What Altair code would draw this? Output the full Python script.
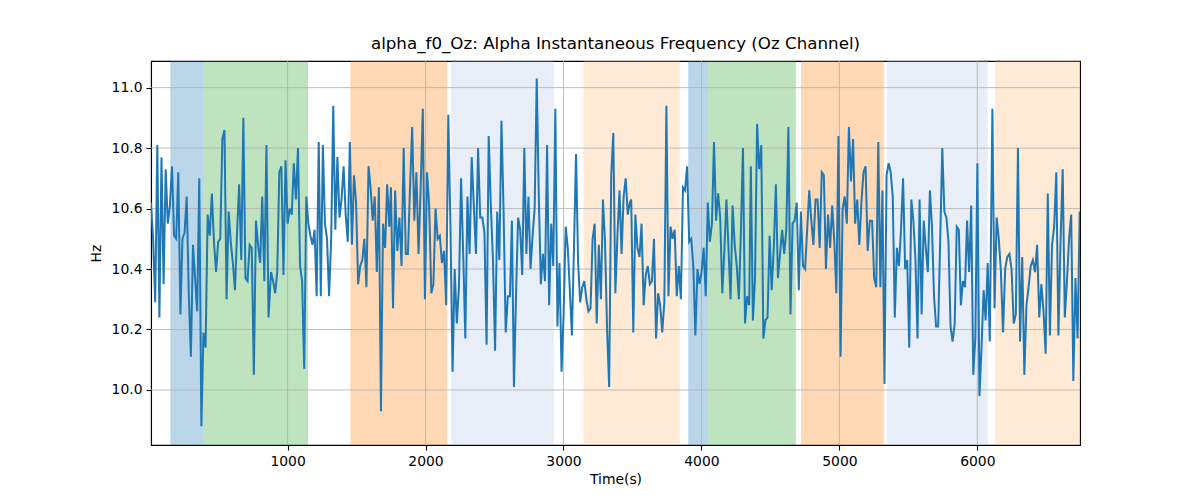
import altair as alt
import pandas as pd
import numpy as np

TITLE = "alpha_f0_Oz: Alpha Instantaneous Frequency (Oz Channel)"

# time bounds (s) of each read-off segment of the trace
seg_t = [(10, 862), (880, 1737), (1749, 2612), (2626, 3481),
         (3491, 4346), (4358, 5220), (5237, 6090), (6109, 6742)]

seg1 = [10.62, 10.50, 10.29, 10.81, 10.24, 10.77, 10.35, 10.73, 10.55, 10.61, 10.74, 10.51, 10.50, 10.72,
        10.25, 10.50, 10.52, 10.64, 10.32, 10.11, 10.48, 10.37, 10.26, 10.70, 9.88, 10.19, 10.14, 10.58,
        10.51, 10.65, 10.49, 10.39, 10.49, 10.50, 10.83, 10.86, 10.30, 10.59, 10.49, 10.42, 10.33, 10.52,
        10.68, 10.43, 10.90, 10.37, 10.36, 10.48, 10.47, 10.05, 10.56, 10.48, 10.42, 10.64, 10.36, 10.81, 10.24]
seg2 = [10.39, 10.36, 10.32, 10.39, 10.72, 10.74, 10.38, 10.76, 10.55, 10.60, 10.58, 10.75, 10.63, 10.80,
        10.41, 10.36, 10.07, 10.64, 10.55, 10.51, 10.48, 10.53, 10.31, 10.82, 10.31, 10.81, 10.55, 10.50,
        10.31, 10.50, 10.94, 10.53, 10.77, 10.57, 10.63, 10.74, 10.58, 10.49, 10.82, 10.48, 10.71, 10.62,
        10.35, 10.41, 10.43, 10.50, 10.34, 10.74, 10.67, 10.56, 10.64, 10.39, 10.67, 9.93, 10.55, 10.47, 10.68, 10.54]
seg3 = [10.67, 10.27, 10.66, 10.46, 10.57, 10.41, 10.80, 10.45, 10.45, 10.67, 10.87, 10.56, 10.72, 10.45,
        10.67, 10.93, 10.30, 10.72, 10.61, 10.32, 10.35, 10.60, 10.50, 10.51, 10.42, 10.46, 10.28, 10.91,
        10.54, 10.06, 10.40, 10.22, 10.34, 10.70, 10.45, 10.17, 10.64, 10.45, 10.77, 10.61, 10.45, 10.80,
        10.57, 10.57, 10.52, 10.15, 10.84, 10.61, 10.43, 10.13, 10.59, 10.43, 10.89, 10.59, 10.19, 10.31, 10.31]
seg4 = [10.56, 10.01, 10.32, 10.57, 10.53, 10.38, 10.80, 10.45, 10.64, 10.40, 10.51, 10.60, 11.03, 10.64,
        10.35, 10.45, 10.36, 10.81, 10.28, 10.55, 10.41, 10.93, 10.21, 10.42, 10.06, 10.25, 10.54, 10.47,
        10.33, 10.18, 10.47, 10.78, 10.42, 10.29, 10.34, 10.36, 10.30, 10.26, 10.27, 10.50, 10.55, 10.22,
        10.48, 10.30, 10.63, 10.49, 10.20, 10.01, 10.71, 10.85, 10.32, 10.51, 10.66, 10.45, 10.64, 10.70, 10.58, 10.62]
seg5 = [10.63, 10.19, 10.58, 10.47, 10.44, 10.55, 10.28, 10.38, 10.41, 10.35, 10.36, 10.50, 10.17, 10.32,
        10.28, 10.19, 10.29, 10.94, 10.31, 10.54, 10.50, 10.53, 10.31, 10.41, 10.30, 10.67, 10.66, 10.74,
        10.49, 10.50, 10.41, 10.18, 10.40, 10.35, 10.39, 10.47, 10.31, 10.62, 10.49, 10.55, 10.82, 10.56,
        10.65, 10.57, 10.32, 10.46, 10.63, 10.47, 10.30, 10.61, 10.48, 10.41, 10.30, 10.52, 10.80, 10.22, 10.31, 10.28]
seg6 = [10.74, 10.23, 10.37, 10.88, 10.73, 10.81, 10.17, 10.23, 10.24, 10.51, 10.33, 10.47, 10.68, 10.37,
        10.45, 10.53, 10.45, 10.53, 10.87, 10.25, 10.55, 10.56, 10.62, 10.33, 10.59, 10.41, 10.40, 10.53,
        10.66, 10.56, 10.48, 10.63, 10.63, 10.47, 10.72, 10.71, 10.40, 10.58, 10.47, 10.61, 10.49, 10.32,
        10.84, 10.11, 10.60, 10.64, 10.55, 10.87, 10.69, 10.83, 10.55, 10.63, 10.48, 10.62, 10.72, 10.74, 10.46, 10.56]
seg7 = [10.56, 10.37, 10.34, 10.82, 10.34, 10.66, 10.02, 10.71, 10.75, 10.72, 10.64, 10.24, 10.47, 10.41,
        10.53, 10.70, 10.40, 10.43, 10.14, 10.63, 10.56, 10.43, 10.17, 10.63, 10.25, 10.56, 10.47, 10.39,
        10.66, 10.54, 10.31, 10.21, 10.21, 10.50, 10.80, 10.59, 10.57, 10.49, 10.21, 10.16, 10.22, 10.54,
        10.53, 10.28, 10.36, 10.34, 10.56, 10.39, 10.61, 10.05, 10.17, 10.75, 9.98, 10.14, 10.33, 10.23, 10.42, 10.16]
seg8 = [10.93, 10.27, 10.57, 10.50, 10.39, 10.19, 10.40, 10.44, 10.45, 10.40, 10.22, 10.25, 10.80, 10.16,
        10.44, 10.05, 10.28, 10.34, 10.41, 10.43, 10.39, 10.48, 10.24, 10.35, 10.26, 10.12, 10.65, 10.18,
        10.48, 10.54, 10.72, 10.18, 10.49, 10.73, 10.24, 10.36, 10.50, 10.58, 10.03, 10.37, 10.17, 10.59]

span_start = [150, 389, 1455, 2186, 3145, 3904, 4049, 4722, 5346, 6128]
span_end = [389, 1148, 2157, 2930, 3843, 4049, 4684, 5322, 6075, 6744]
span_kind = ["blue", "green", "orange", "lightblue", "lightorange",
             "blue", "green", "orange", "lightblue", "lightorange"]

x_ticks = [1000, 2000, 3000, 4000, 5000, 6000]
y_ticks = [10.0, 10.2, 10.4, 10.6, 10.8, 11.0]

X_DOMAIN = [10, 6744]
Y_DOMAIN = [9.818, 11.088]

times, vals = [], []
for (a, b), seg in zip(seg_t, [seg1, seg2, seg3, seg4, seg5, seg6, seg7, seg8]):
    times.extend(np.linspace(a, b, len(seg)).tolist())
    vals.extend(seg)
line_df = pd.DataFrame({"t": times, "hz": vals})
span_df = pd.DataFrame({"start": span_start, "end": span_end, "kind": span_kind})
gx_df = pd.DataFrame({"gx": x_ticks})
gy_df = pd.DataFrame({"gy": y_ticks})

xs = alt.Scale(domain=X_DOMAIN, nice=False, zero=False)
ys = alt.Scale(domain=Y_DOMAIN, nice=False, zero=False)
x_axis = alt.Axis(values=x_ticks, format="d", grid=False)
y_axis = alt.Axis(values=y_ticks, format=".1f", grid=False)

spans = alt.Chart(span_df).mark_rect(opacity=0.3).encode(
    x=alt.X("start:Q", scale=xs, title="Time(s)", axis=x_axis),
    x2="end:Q",
    color=alt.Color("kind:N", legend=None, scale=alt.Scale(
        domain=["blue", "green", "orange", "lightblue", "lightorange"],
        range=["#1f77b4", "#2ca02c", "#ff7f0e", "#aec7e8", "#ffbb78"])),
)

gridx = alt.Chart(gx_df).mark_rule(color="#b0b0b0", strokeWidth=0.8).encode(
    x=alt.X("gx:Q", scale=xs, title="Time(s)", axis=x_axis))
gridy = alt.Chart(gy_df).mark_rule(color="#b0b0b0", strokeWidth=0.8).encode(
    y=alt.Y("gy:Q", scale=ys, title="Hz", axis=y_axis))

line = alt.Chart(line_df).mark_line(color="#1f77b4", strokeWidth=2, clip=True).encode(
    x=alt.X("t:Q", scale=xs, title="Time(s)", axis=x_axis),
    y=alt.Y("hz:Q", scale=ys, title="Hz", axis=y_axis),
)

chart = alt.layer(spans, gridx, gridy, line).properties(
    width=929, height=384,
    autosize=alt.AutoSizeParams(type="none"),
    padding={"left": 143, "top": 53, "right": 20, "bottom": 60},
    title=alt.TitleParams(TITLE, font="DejaVu Sans", fontSize=16.7, fontWeight="normal",
                          anchor="middle", offset=8, color="black"),
).configure_view(stroke="black", strokeWidth=1.1).configure_axis(
    domainColor="black", domainWidth=1.1, tickColor="black", tickSize=5, tickWidth=1.1,
    labelFont="DejaVu Sans", labelFontSize=13.9, labelColor="black", labelPadding=4,
    titleFont="DejaVu Sans", titleFontSize=13.9, titleFontWeight="normal", titleColor="black",
).configure_axisX(titlePadding=5).configure_axisY(titlePadding=8)

chart.save("out.html", embed_options={"renderer": "svg", "actions": False})
